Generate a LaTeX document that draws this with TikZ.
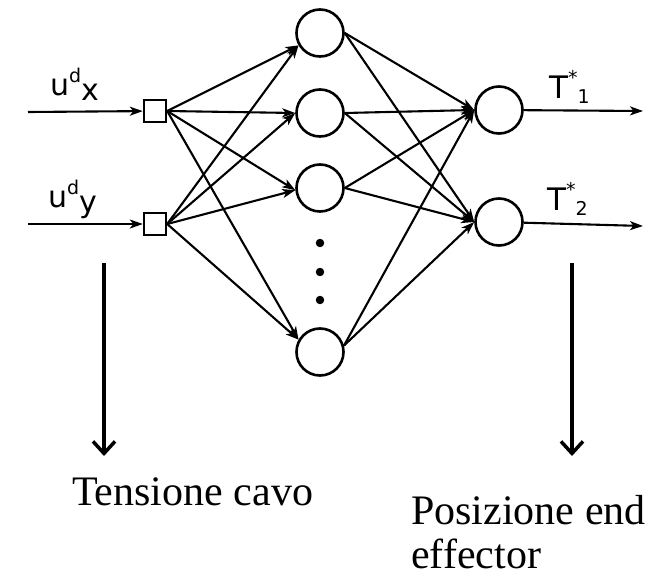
\documentclass[tikz,border=0pt]{standalone}
\usepackage{fontspec}
\setmainfont{Liberation Serif}
\newfontfamily\labelfont{DejaVu Sans}
\usetikzlibrary{arrows.meta}
\tikzset{
inbox/.style={draw,line width=2.4pt,minimum size=22pt,inner sep=0pt},
neuron/.style={draw,circle,line width=2.6pt,minimum size=47pt,inner sep=0pt},
arr/.style={-{Stealth[length=13pt,width=9pt,inset=3.5pt]},line width=2.1pt},
bigarr/.style={-{Straight Barb[length=12pt,width=22pt,line width=3.5pt]},line width=3.5pt},
lbl/.style={font=\labelfont\fontsize{30}{30}\selectfont,inner sep=0pt,anchor=base west},
caption/.style={font=\fontsize{42}{44}\selectfont,inner sep=0pt,anchor=base west,align=left}}
\newcommand{\smallup}[1]{{\fontsize{19}{19}\selectfont #1}}

\begin{document}
\begin{tikzpicture}[x=1pt,y=-1pt]
\useasboundingbox (0,0) rectangle (657,576);
\node[inbox] (in1) at (155,111) {};
\node[inbox] (in2) at (155,224) {};
\node[neuron] (h1) at (320,33) {};
\node[neuron] (h2) at (320,113) {};
\node[neuron] (h3) at (320,188) {};
\node[neuron] (h4) at (320,352) {};
\node[neuron] (o1) at (499,110) {};
\node[neuron] (o2) at (499,222) {};
\node[circle,fill,inner sep=3pt] (dot1) at (320,243) {};
\node[circle,fill,inner sep=3pt] (dot2) at (320,272) {};
\node[circle,fill,inner sep=3pt] (dot3) at (320,300) {};
\coordinate (x0) at (28,112);
\coordinate (y0) at (28,224);
\coordinate (t1) at (643,111);
\coordinate (t2) at (643,226);
\node[lbl] (ux) at (50,95) {u\raisebox{13pt}{\smallup{d}}\raisebox{-5pt}{x}};
\node[lbl] (uy) at (48,207) {u\raisebox{13pt}{\smallup{d}}\raisebox{-5pt}{y}};
\node[lbl,font=\labelfont\fontsize{31}{31}\selectfont] (T1) at (549,98) {T\raisebox{14pt}{\smallup{*}}\raisebox{-5pt}{\smallup{1}}};
\node[lbl,font=\labelfont\fontsize{31}{31}\selectfont] (T2) at (547,210) {T\raisebox{14pt}{\smallup{*}}\raisebox{-5pt}{\smallup{2}}};
\coordinate (a1) at (104,263);
\coordinate (a2) at (104,456);
\coordinate (b1) at (572,263);
\coordinate (b2) at (572,456);
\node[caption] (cavo) at (72,505) {Tensione cavo};
\node[caption] (pos) at (411,568) {Posizione end\\effector};
% inputs
\draw[arr] (x0)--(in1);
\draw[arr] (y0)--(in2);
% input -> hidden
\draw[arr] (in1.east)--(h1.210);
\draw[arr] (in1.east)--(h2.west);
\draw[arr] (in1.east)--(h3.185);
\draw[arr] (in1.east)--(h4.150);
\draw[arr] (in2.east)--(h1.210);
\draw[arr] (in2.east)--(h2.west);
\draw[arr] (in2.east)--(h3.185);
\draw[arr] (in2.east)--(h4.150);
% hidden -> output
\draw[arr] (h1.east)--(o1.west);
\draw[arr] (h2.east)--(o1.west);
\draw[arr] (h3.east)--(o1.west);
\draw[arr] (h4.15)--(o1.west);
\draw[arr] (h1.east)--(o2.west);
\draw[arr] (h2.east)--(o2.west);
\draw[arr] (h3.east)--(o2.west);
\draw[arr] (h4.15)--(o2.west);
% outputs
\draw[arr] (o1)--(t1);
\draw[arr] (o2)--(t2);
\draw[bigarr] (a1)--(a2);
\draw[bigarr] (b1)--(b2);
\end{tikzpicture}
\end{document}
